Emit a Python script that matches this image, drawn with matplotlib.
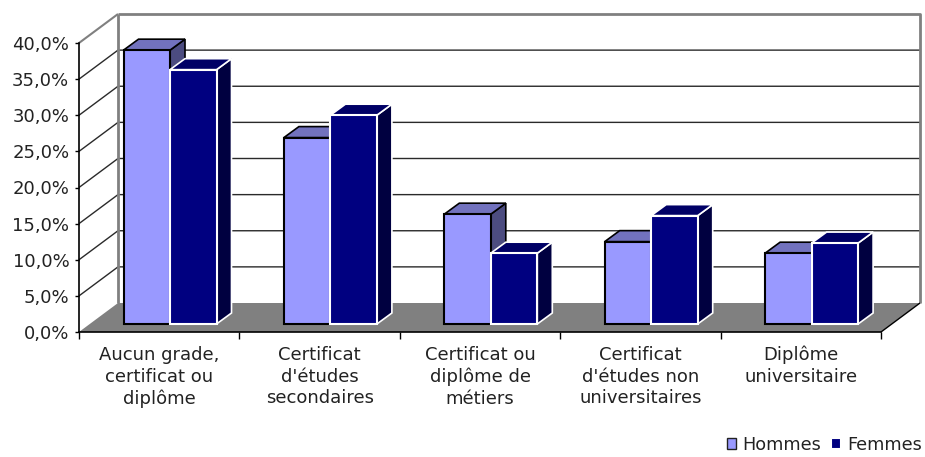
import matplotlib
matplotlib.use("Agg")
import matplotlib.pyplot as plt
from matplotlib.patches import Polygon, Patch

categories = ["Aucun grade,\ncertificat ou\ndiplôme", "Certificat\nd'études\nsecondaires",
              "Certificat ou\ndiplôme de\nmétiers", "Certificat\nd'études non\nuniversitaires",
              "Diplôme\nuniversitaire"]
hommes = [37.9, 25.8, 15.2, 11.4, 9.8]
femmes = [35.2, 28.9, 9.8, 15.0, 11.2]
yticks = [0, 5, 10, 15, 20, 25, 30, 35, 40]
ylabels = ["0,0%", "5,0%", "10,0%", "15,0%", "20,0%", "25,0%", "30,0%", "35,0%", "40,0%"]

W, H = 925, 457
fig = plt.figure(figsize=(W / 100, H / 100), dpi=100)
ax = fig.add_axes([79 / W, (H - 332) / H, 802 / W, 289 / H])
ax.set_xlim(0, 5)
ax.set_ylim(0, 40)

PX = 5 / 802      # data units per pixel, x
PY = 40 / 289     # data units per pixel, y
DX, DY = 39 * PX, 29 * PY          # wall depth
BX0, BY0 = 10.8 * PX, 8 * PY       # bar front offset
BDX, BDY = 15 * PX, 11 * PY        # bar depth
BW = 46.5 * PX

TXT = "#222222"
GRID = "#2A2A2A"
WALL = "#808080"

def poly(pts, **kw):
    ax.add_patch(Polygon(pts, closed=True, clip_on=False, **kw))

def line(xs, ys, **kw):
    ax.plot(xs, ys, clip_on=False, solid_capstyle="butt", **kw)

# floor
poly([(0, 0), (5, 0), (5 + DX, DY), (DX, DY)], facecolor=WALL, edgecolor="none", zorder=1)

# grid on the walls
for t in yticks[1:-1]:
    line([0, DX, 5 + DX], [t, t + DY, t + DY], color=GRID, lw=1, zorder=1.5)
line([0, DX], [40, 40 + DY], color=WALL, lw=1.5, zorder=1.5)
line([DX, 5 + DX, 5 + DX], [40 + DY, 40 + DY, DY], color=WALL, lw=2, zorder=1.5)
line([DX, DX], [DY, 40 + DY], color=WALL, lw=2, zorder=1.5)
line([5, 5 + DX], [0, DY], color="black", lw=1, zorder=1.6)

def bar3d(x, v, front, top, side, edge, z):
    b = BY0
    h = v
    poly([(x + BW, b), (x + BW + BDX, b + BDY), (x + BW + BDX, b + h + BDY), (x + BW, b + h)],
         facecolor=side, edgecolor=edge, lw=1.2, zorder=z)
    poly([(x, b + h), (x + BW, b + h), (x + BW + BDX, b + h + BDY), (x + BDX, b + h + BDY)],
         facecolor=top, edgecolor=edge, lw=1.2, zorder=z)
    ax.bar(x, h, width=BW, bottom=b, align="edge", facecolor=front, edgecolor=edge,
           linewidth=1.5, zorder=z + 0.1, clip_on=False)

for i, (a, b) in enumerate(zip(hommes, femmes)):
    c = i + 0.5 + BX0
    bar3d(c - BW, a, "#9999FF", "#7272BE", "#4C4C80", "black", 3 + i * 0.01)
    bar3d(c, b, "#000080", "#000066", "#000040", "white", 4 + i * 0.01)

for s in ("top", "right"):
    ax.spines[s].set_visible(False)
for s in ("left", "bottom"):
    ax.spines[s].set_linewidth(1.2)
    ax.spines[s].set_zorder(2)
ax.patch.set_visible(False)

ax.set_yticks(yticks)
ax.set_yticklabels(ylabels, fontsize=13, color=TXT)
ax.set_xticks(range(6))
ax.set_xticklabels([])
ax.tick_params(axis="y", length=3, width=1, pad=4)
ax.tick_params(axis="x", length=5, width=1)
for i, c in enumerate(categories):
    ax.annotate(c, (i + 0.5, 0), xytext=(0, -10), textcoords="offset points", ha="center", va="top",
                fontsize=13, color=TXT, linespacing=1.27, annotation_clip=False)

handles = [Patch(facecolor="#9999FF", edgecolor="#222222", lw=1), Patch(facecolor="#000080", edgecolor="white", lw=1.5)]
fig.legend(handles, ["Hommes", "Femmes"], loc="lower right", bbox_to_anchor=(1.004, -0.008), ncol=2,
           frameon=False, fontsize=12.7, handlelength=0.55, handleheight=0.55, handletextpad=0.35,
           columnspacing=0.55, labelcolor=TXT, borderaxespad=0.2, borderpad=0.2)

fig.savefig("out.png", dpi=100)
